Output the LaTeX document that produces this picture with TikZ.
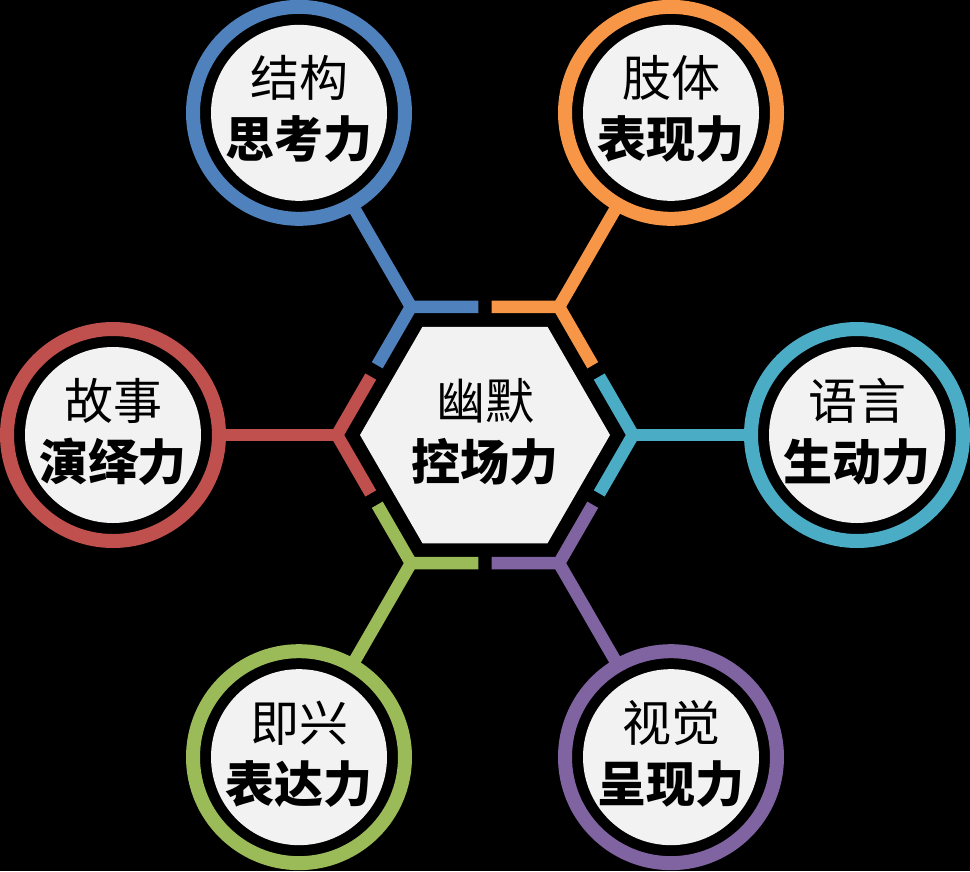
\documentclass[tikz,border=0pt]{standalone}
\usepackage{fontspec}
\newfontfamily\cjk{Noto Sans CJK SC}
\usetikzlibrary{calc}
\definecolor{cblue}{HTML}{4F81BD}
\definecolor{corange}{HTML}{F79646}
\definecolor{ccyan}{HTML}{4BACC6}
\definecolor{cpurple}{HTML}{8064A2}
\definecolor{cgreen}{HTML}{9BBB59}
\definecolor{cred}{HTML}{C0504D}
\definecolor{cgray}{HTML}{F2F2F2}
\begin{document}
\begin{tikzpicture}[x=1pt,y=-1pt,
  ringseg/.style={line width=12.5pt,line join=miter,line cap=butt},
  spoke/.style={line width=12.5pt,line cap=butt},
  disc/.style={circle,fill=cgray,minimum size=176pt,inner sep=0pt,outer sep=0pt},
  ringc/.style={circle,line width=14pt,minimum size=212pt,inner sep=0pt,outer sep=0pt},
  lineone/.style={anchor=base,inner sep=0pt,font=\cjk\fontsize{49}{49}\selectfont,text=black},
  linetwo/.style={anchor=base,inner sep=0pt,font=\cjk\bfseries\fontsize{49}{49}\selectfont,text=black}]
\fill[black] (0,0) rectangle (970,871);
\useasboundingbox (0,0) rectangle (970,871);
\coordinate (O) at (485,435);
\fill[cgray] ($(O)+(0:125)$) -- ($(O)+(60:125)$) -- ($(O)+(120:125)$) -- ($(O)+(180:125)$) -- ($(O)+(240:125)$) -- ($(O)+(300:125)$) -- cycle;
\node[lineone] (h1) at ($(O)+(0,-16)$) {幽默};
\node[linetwo] (h2) at ($(O)+(0,45)$) {控场力};
\foreach \a/\col/\ta/\tb/\n in {0/ccyan/语言/生动力/1, 60/cpurple/视觉/呈现力/2, 120/cgreen/即兴/表达力/3, 180/cred/故事/演绎力/4, 240/cblue/结构/思考力/5, 300/corange/肢体/表现力/6}{
  \coordinate (v\n) at ($(O)+(\a:148)$);
  \coordinate (vm\n) at ($(O)+(\a-60:148)$);
  \coordinate (vp\n) at ($(O)+(\a+60:148)$);
  \draw[ringseg,draw=\col] ($(v\n)!0.456!(vm\n)$) -- (v\n) -- ($(v\n)!0.456!(vp\n)$);
  \node[disc] (d\n) at ($(O)+(\a:372)$) {};
  \node[ringc,draw=\col] (r\n) at (d\n) {};
  \draw[spoke,draw=\col] (v\n) -- (r\n);
  \node[lineone] (ta\n) at ($(d\n)+(0,-16)$) {\ta};
  \node[linetwo] (tb\n) at ($(d\n)+(0,45)$) {\tb};
}
\end{tikzpicture}
\end{document}
